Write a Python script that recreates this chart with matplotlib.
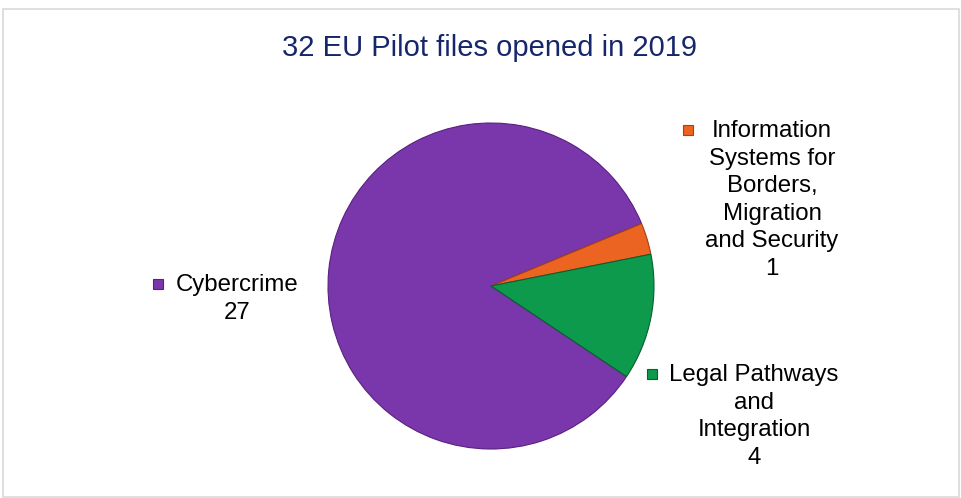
import matplotlib
matplotlib.use('Agg')
import matplotlib.pyplot as plt
from matplotlib.patches import Rectangle

# dados do gráfico
categorias = ["Cybercrime", "Information\nSystems for\nBorders,\nMigration\nand Security", "Legal Pathways\nand\nIntegration"]
valores = [27, 1, 4]
cores = ["#7A36AB", "#EC6422", "#0E9A4C"]
bordas = ["#5A2080", "#A8400F", "#07602E"]
titulo = "32 EU Pilot files opened in 2019"

W, H = 962, 498
plt.rcParams['font.family'] = ['Liberation Sans', 'DejaVu Sans']

fig = plt.figure(figsize=(W / 100, H / 100), dpi=100)

def fx(px):
    return px / W

def fy(py):
    return 1 - py / H

# moldura cinza clara
fig.add_artist(Rectangle((fx(3), fy(497)), fx(956), (497 - 9) / H, transform=fig.transFigure,
                         fill=False, edgecolor="#D9D9D9", linewidth=1.2))

# pizza
cx, cy, r = 491, 286, 163
ax = fig.add_axes([fx(cx - r), fy(cy + r), 2 * r / W, 2 * r / H])
ax.pie(valores, colors=cores, startangle=326.25, counterclock=False, radius=1,
       wedgeprops=dict(linewidth=0.8))
for w, b in zip(ax.patches, bordas):
    w.set_edgecolor(b)
ax.set_xlim(-1.0, 1.0)
ax.set_ylim(-1.0, 1.0)
ax.axis('off')

fig.text(fx(490), fy(48), titulo, ha='center', va='center', fontsize=21, color="#16266A")

# rótulos: (centro x, y da primeira linha, x do marcador)
pos_rotulos = [(237, 284, 158), (772, 130, 688), (754, 374, 652)]
for cat, val, cor, borda, (tx, ty, mx) in zip(categorias, valores, cores, bordas, pos_rotulos):
    linhas = cat.split("\n") + [str(val)]
    fig.text(fx(tx), fy(ty - 10), "\n".join(linhas), ha='center', va='top',
             fontsize=17.3, linespacing=1.33, color="#000000")
    fig.add_artist(Rectangle((fx(mx - 5), fy(ty + 5)), 10 / W, 10 / H, transform=fig.transFigure,
                             facecolor=cor, edgecolor=borda, linewidth=0.8))

fig.savefig("out.png", dpi=100)
